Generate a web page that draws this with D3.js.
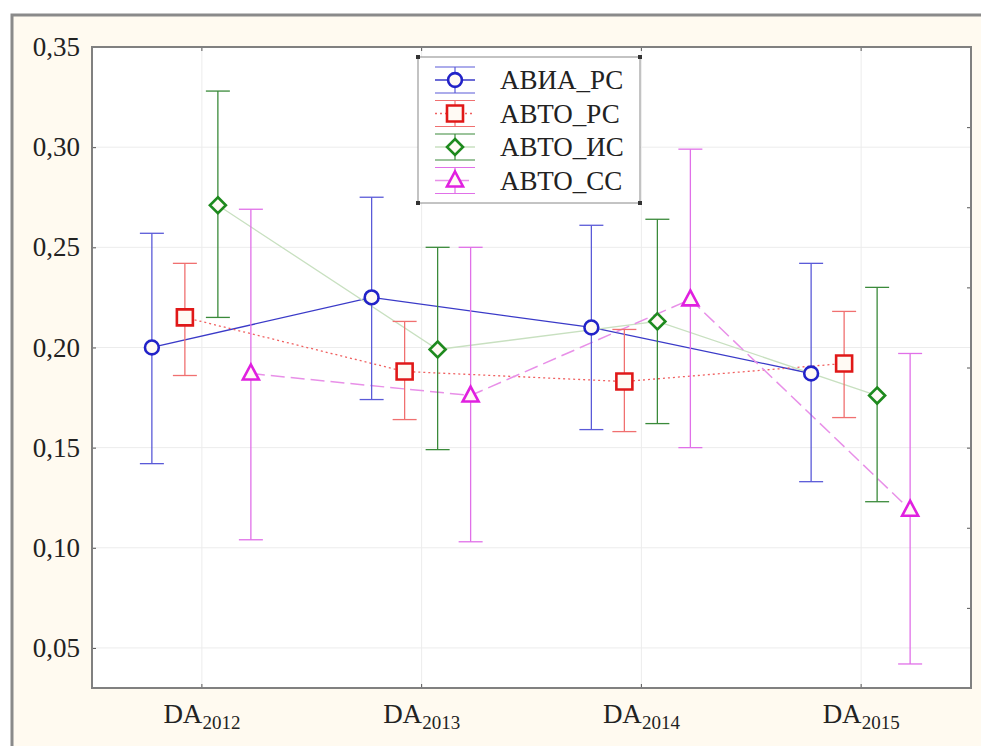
<!DOCTYPE html>
<html>
<head>
<meta charset="utf-8">
<script src="https://cdn.jsdelivr.net/npm/d3@7"></script>
<style>
  html, body { margin: 0; padding: 0; background: #fff; }
  svg { display: block; }
</style>
</head>
<body>
<svg id="chart" width="981" height="746"></svg>
<script>
const categories = ["2012", "2013", "2014", "2015"];
const seriesNames = ["АВИА_РС", "АВТО_РС", "АВТО_ИС", "АВТО_СС"];

const aviaRsMean = [0.200, 0.225, 0.210, 0.187];
const aviaRsHigh = [0.257, 0.275, 0.261, 0.242];
const aviaRsLow = [0.142, 0.174, 0.159, 0.133];

const avtoRsMean = [0.215, 0.188, 0.183, 0.192];
const avtoRsHigh = [0.242, 0.213, 0.209, 0.218];
const avtoRsLow = [0.186, 0.164, 0.158, 0.165];

const avtoIsMean = [0.271, 0.199, 0.213, 0.176];
const avtoIsHigh = [0.328, 0.250, 0.264, 0.230];
const avtoIsLow = [0.215, 0.149, 0.162, 0.123];

const avtoSsMean = [0.187, 0.176, 0.224, 0.119];
const avtoSsHigh = [0.269, 0.250, 0.299, 0.197];
const avtoSsLow = [0.104, 0.103, 0.150, 0.042];

const yTicks = [0.05, 0.10, 0.15, 0.20, 0.25, 0.30, 0.35];
const rightTicks = [0.07, 0.11, 0.15, 0.19, 0.23, 0.27, 0.31];

const svg = d3.select("#chart");
const margin = { top: 47, right: 10, bottom: 58, left: 92 };
const width = 981, height = 746;
const chartWidth = width - margin.left - margin.right;
const chartHeight = height - margin.top - margin.bottom;

// frame
svg.append("rect").attr("x", 12).attr("y", 15).attr("width", width - 12).attr("height", height - 15)
    .attr("fill", "#fffaf0");
svg.append("path").attr("d", `M12,${height} V15 H${width}`)
    .attr("fill", "none").attr("stroke", "#8a8a8a").attr("stroke-width", 3);

const g = svg.append("g").attr("transform", `translate(${margin.left},${margin.top})`);

const x = d3.scaleBand().domain(categories).range([0, chartWidth]);
const y = d3.scaleLinear().domain([0.03, 0.35]).range([chartHeight, 0]);

g.append("rect").attr("width", chartWidth).attr("height", chartHeight).attr("fill", "#fff");

// grid
g.selectAll(".hgrid").data(yTicks).join("line")
    .attr("x1", 0).attr("x2", chartWidth)
    .attr("y1", d => y(d)).attr("y2", d => y(d))
    .attr("stroke", "#ececec").attr("stroke-width", 1);
g.selectAll(".vgrid").data(categories).join("line")
    .attr("x1", d => x(d) + x.bandwidth() / 2).attr("x2", d => x(d) + x.bandwidth() / 2)
    .attr("y1", 0).attr("y2", chartHeight)
    .attr("stroke", "#ececec").attr("stroke-width", 1);

// axes
const fontFamily = "'Liberation Serif', 'Times New Roman', serif";
const yAxis = d3.axisLeft(y).tickValues(yTicks).tickSize(-4).tickPadding(12)
    .tickFormat(d => d3.format(".2f")(d).replace(".", ","));
const yAxisG = g.append("g").call(yAxis);
const yAxisR = g.append("g").attr("transform", `translate(${chartWidth},0)`)
    .call(d3.axisRight(y).tickValues(rightTicks).tickSize(-4).tickFormat(""));
const xAxisG = g.append("g").attr("transform", `translate(0,${chartHeight})`)
    .call(d3.axisBottom(x).tickSize(-4).tickFormat(""));
const xAxisTop = g.append("g").call(d3.axisTop(x).tickSize(-4).tickFormat(""));
[yAxisG, yAxisR, xAxisG, xAxisTop].forEach(a => {
    a.select(".domain").remove();
    a.selectAll(".tick line").attr("stroke", "#555");
});
yAxisG.selectAll("text").attr("font-family", fontFamily).attr("font-size", 27).attr("fill", "#222");

// x labels with subscript
xAxisG.selectAll(".tick").each(function (d) {
    const t = d3.select(this).append("text")
        .attr("y", 35).attr("text-anchor", "middle")
        .attr("font-family", fontFamily).attr("fill", "#222");
    t.append("tspan").attr("font-size", 27).text("DA");
    t.append("tspan").attr("font-size", 19).attr("dy", 6).text(d);
});

g.append("rect").attr("width", chartWidth).attr("height", chartHeight)
    .attr("fill", "none").attr("stroke", "#808080").attr("stroke-width", 2);

const series = [
    { name: seriesNames[0], mean: aviaRsMean, hi: aviaRsHigh, lo: aviaRsLow, color: "#2222c8", bar: "#5a5ad8",
      line: "#3a3ac8", dash: null, lw: 1.3, shape: "circle", off: -50 },
    { name: seriesNames[1], mean: avtoRsMean, hi: avtoRsHigh, lo: avtoRsLow, color: "#e01818", bar: "#f07070",
      line: "#f06060", dash: "2,3", lw: 1.3, shape: "square", off: -17 },
    { name: seriesNames[2], mean: avtoIsMean, hi: avtoIsHigh, lo: avtoIsLow, color: "#1e8a1e", bar: "#3a8a3a",
      line: "#c8e0c0", dash: null, lw: 1.3, shape: "diamond", off: 16 },
    { name: seriesNames[3], mean: avtoSsMean, hi: avtoSsHigh, lo: avtoSsLow, color: "#e020e0", bar: "#e070e8",
      line: "#e890e8", dash: "14,6", lw: 1.5, shape: "triangle", off: 49 }
];

function markerPath(shape) {
    if (shape === "circle") return d3.symbol(d3.symbolCircle, 150)();
    if (shape === "square") return "M-8,-8H8V8H-8Z";
    if (shape === "diamond") return "M0,-8L8,0L0,8L-8,0Z";
    return "M0,-9L8,6H-8Z";
}

const cx = (s, i) => x(categories[i]) + x.bandwidth() / 2 + s.off;

series.forEach(s => {
    const idx = d3.range(categories.length);
    const line = d3.line().x(i => cx(s, i)).y(i => y(s.mean[i]));
    g.append("path").datum(idx).attr("d", line)
        .attr("fill", "none").attr("stroke", s.line).attr("stroke-width", s.lw)
        .attr("stroke-dasharray", s.dash);
});

series.forEach(s => {
    const idx = d3.range(categories.length);
    const bars = g.append("g");
    bars.selectAll(".stem").data(idx).join("line")
        .attr("x1", i => cx(s, i)).attr("x2", i => cx(s, i))
        .attr("y1", i => y(s.hi[i])).attr("y2", i => y(s.lo[i]))
        .attr("stroke", s.bar).attr("stroke-width", 1.3);
    ["hi", "lo"].forEach(k => {
        bars.selectAll(".cap-" + k).data(idx).join("line")
            .attr("x1", i => cx(s, i) - 12).attr("x2", i => cx(s, i) + 12)
            .attr("y1", i => y(s[k][i])).attr("y2", i => y(s[k][i]))
            .attr("stroke", s.bar).attr("stroke-width", 1.3);
    });
});

series.forEach(s => {
    const idx = d3.range(categories.length);
    g.selectAll(null).data(idx).join("path")
        .attr("d", markerPath(s.shape))
        .attr("transform", i => `translate(${cx(s, i)},${y(s.mean[i])})`)
        .attr("fill", "#fffaf4").attr("stroke", s.color).attr("stroke-width", 2.6);
});

// legend
const legend = svg.append("g").attr("transform", "translate(418,57)");
legend.append("rect").attr("width", 222).attr("height", 146)
    .attr("fill", "#fff").attr("stroke", "#888").attr("stroke-width", 1);
[[0, 0], [222, 0], [0, 146], [222, 146]].forEach(p => {
    legend.append("rect").attr("x", p[0] - 2).attr("y", p[1] - 2).attr("width", 4).attr("height", 4).attr("fill", "#333");
});
series.forEach((s, k) => {
    const ly = 23 + k * 33.5;
    const row = legend.append("g").attr("transform", `translate(37,${ly})`);
    [-13, 13].forEach(dy => row.append("line").attr("x1", -20).attr("x2", 20).attr("y1", dy).attr("y2", dy)
        .attr("stroke", s.bar).attr("stroke-width", 1.2));
    row.append("line").attr("x1", -20).attr("x2", 20)
        .attr("stroke", s.line).attr("stroke-width", 1.3).attr("stroke-dasharray", s.dash);
    row.append("line").attr("y1", -13).attr("y2", 13).attr("stroke", s.bar).attr("stroke-width", 1.2);
    row.append("path").attr("d", markerPath(s.shape))
        .attr("fill", "#fffaf4").attr("stroke", s.color).attr("stroke-width", 2.6);
    row.append("text").attr("x", 45).attr("y", 9)
        .attr("font-family", fontFamily).attr("font-size", 27).attr("fill", "#222").text(s.name);
});
</script>
</body>
</html>
